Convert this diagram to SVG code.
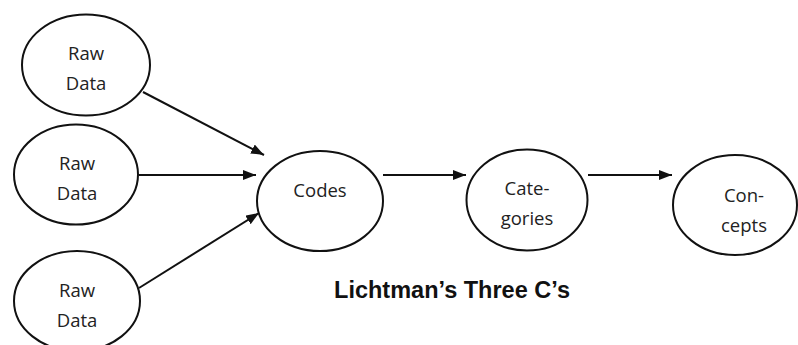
<svg xmlns="http://www.w3.org/2000/svg" width="798" height="345" viewBox="0 0 798 345">
<style>
.node ellipse{fill:#fff;stroke:#111;stroke-width:2}
.node text{font-family:"Open Sans","Liberation Sans",sans-serif;font-size:18.5px;fill:#222;text-anchor:middle}
.edge{stroke:#111;stroke-width:2;fill:none;marker-end:url(#arr)}
.title{font-family:"Liberation Sans",Arial,sans-serif;font-weight:bold;font-size:23.5px;fill:#111;text-anchor:middle}
</style>
<defs>
<marker id="arr" markerUnits="userSpaceOnUse" markerWidth="14" markerHeight="11" refX="13" refY="5" orient="auto">
<path d="M0,0 L13,5 L0,10 z" fill="#111"/>
</marker>
</defs>
<rect width="798" height="345" fill="#fff"/>
<g id="connectors">
<line class="edge" x1="143" y1="92" x2="264" y2="155"/>
<line class="edge" x1="139" y1="175" x2="256" y2="175"/>
<line class="edge" x1="139" y1="288" x2="259" y2="213"/>
<line class="edge" x1="383" y1="175" x2="466" y2="175"/>
<line class="edge" x1="588" y1="175" x2="672" y2="175"/>
</g>
<g id="raw1" class="node">
<ellipse cx="86" cy="65" rx="64" ry="50.5"/>
<text x="86" y="60">Raw</text>
<text x="86" y="90">Data</text>
</g>
<g id="raw2" class="node">
<ellipse cx="76" cy="174.5" rx="62" ry="50"/>
<text x="77" y="170">Raw</text>
<text x="77" y="200">Data</text>
</g>
<g id="raw3" class="node">
<ellipse cx="77" cy="301" rx="63" ry="50"/>
<text x="77" y="297">Raw</text>
<text x="77" y="327">Data</text>
</g>
<g id="codes" class="node">
<ellipse cx="320" cy="201" rx="63" ry="50"/>
<text x="320" y="197">Codes</text>
</g>
<g id="categories" class="node">
<ellipse cx="527" cy="200" rx="60.5" ry="50.5"/>
<text x="527" y="195">Cate-</text>
<text x="527" y="225">gories</text>
</g>
<g id="concepts" class="node">
<ellipse cx="735" cy="205" rx="62" ry="50"/>
<text x="744" y="202">Con-</text>
<text x="744" y="232">cepts</text>
</g>
<text class="title" x="452" y="298">Lichtman’s Three C’s</text>
</svg>
